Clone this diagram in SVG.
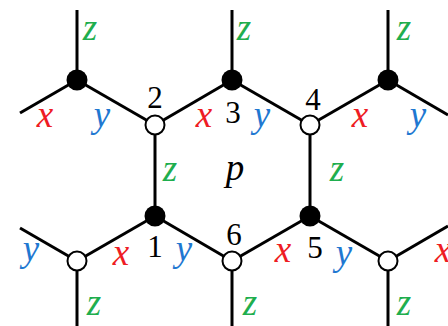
<svg xmlns="http://www.w3.org/2000/svg" width="448" height="326" viewBox="0 0 448 326">
<style>
.e{stroke:#000;stroke-width:3;fill:none;stroke-linecap:butt}
.b{fill:#000}
.w{fill:#fff;stroke:#000;stroke-width:2}
.l{font-family:"Liberation Serif",serif;font-style:italic;font-size:37px;text-anchor:middle}
.n{font-family:"Liberation Serif",serif;font-size:31px;text-anchor:middle;fill:#000}
.r{fill:#ee1c24}
.u{fill:#1f78d1}
.g{fill:#1fae4e}
.k{fill:#000}
</style>
<rect width="448" height="326" fill="#fff"/>
<g id="connectors">
<line class="e" x1="77" y1="10" x2="77" y2="80"/>
<line class="e" x1="232" y1="10" x2="232" y2="80"/>
<line class="e" x1="388" y1="10" x2="388" y2="80"/>
<line class="e" x1="20" y1="113" x2="77" y2="80"/>
<line class="e" x1="77" y1="80" x2="155" y2="125"/>
<line class="e" x1="155" y1="125" x2="232" y2="80"/>
<line class="e" x1="232" y1="80" x2="310" y2="125"/>
<line class="e" x1="310" y1="125" x2="388" y2="80"/>
<line class="e" x1="388" y1="80" x2="448" y2="115"/>
<line class="e" x1="155" y1="125" x2="155" y2="216"/>
<line class="e" x1="310" y1="125" x2="310" y2="216"/>
<line class="e" x1="20" y1="228" x2="77" y2="261"/>
<line class="e" x1="77" y1="261" x2="155" y2="216"/>
<line class="e" x1="155" y1="216" x2="232" y2="261"/>
<line class="e" x1="232" y1="261" x2="310" y2="216"/>
<line class="e" x1="310" y1="216" x2="388" y2="261"/>
<line class="e" x1="388" y1="261" x2="448" y2="226"/>
<line class="e" x1="77" y1="261" x2="77" y2="326"/>
<line class="e" x1="232" y1="261" x2="232" y2="326"/>
<line class="e" x1="388" y1="261" x2="388" y2="326"/>
</g>
<g id="node-tl"><circle class="b" cx="77" cy="80" r="10.5"/></g>
<g id="node-2"><circle class="w" cx="155" cy="125" r="9.5"/><text class="n" x="155" y="108">2</text></g>
<g id="node-3"><circle class="b" cx="232" cy="80" r="10.5"/><text class="n" x="233" y="123">3</text></g>
<g id="node-4"><circle class="w" cx="310" cy="125" r="9.5"/><text class="n" x="313" y="110">4</text></g>
<g id="node-tr"><circle class="b" cx="388" cy="80" r="10.5"/></g>
<g id="node-1"><circle class="b" cx="155" cy="216" r="10.5"/><text class="n" x="155" y="257">1</text></g>
<g id="node-5"><circle class="b" cx="310" cy="216" r="10.5"/><text class="n" x="315" y="258">5</text></g>
<g id="node-bl"><circle class="w" cx="77" cy="261" r="9.5"/></g>
<g id="node-6"><circle class="w" cx="232" cy="261" r="9.5"/><text class="n" x="234" y="245">6</text></g>
<g id="node-br"><circle class="w" cx="388" cy="261" r="9.5"/></g>
<g id="labels">
<text class="l g" x="90" y="40">z</text>
<text class="l g" x="244" y="40">z</text>
<text class="l g" x="404" y="40">z</text>
<text class="l g" x="170" y="181">z</text>
<text class="l g" x="337" y="181">z</text>
<text class="l g" x="94" y="315">z</text>
<text class="l g" x="250" y="315">z</text>
<text class="l g" x="404" y="315">z</text>
<text class="l r" x="45" y="127">x</text>
<text class="l r" x="204" y="127">x</text>
<text class="l r" x="360" y="127">x</text>
<text class="l r" x="121" y="265">x</text>
<text class="l r" x="283" y="262">x</text>
<text class="l r" x="443" y="262">x</text>
<text class="l u" x="102" y="127">y</text>
<text class="l u" x="262" y="127">y</text>
<text class="l u" x="418" y="127">y</text>
<text class="l u" x="31" y="261">y</text>
<text class="l u" x="184" y="261">y</text>
<text class="l u" x="344" y="265">y</text>
<text class="l k" x="235" y="180">p</text>
</g>
</svg>
